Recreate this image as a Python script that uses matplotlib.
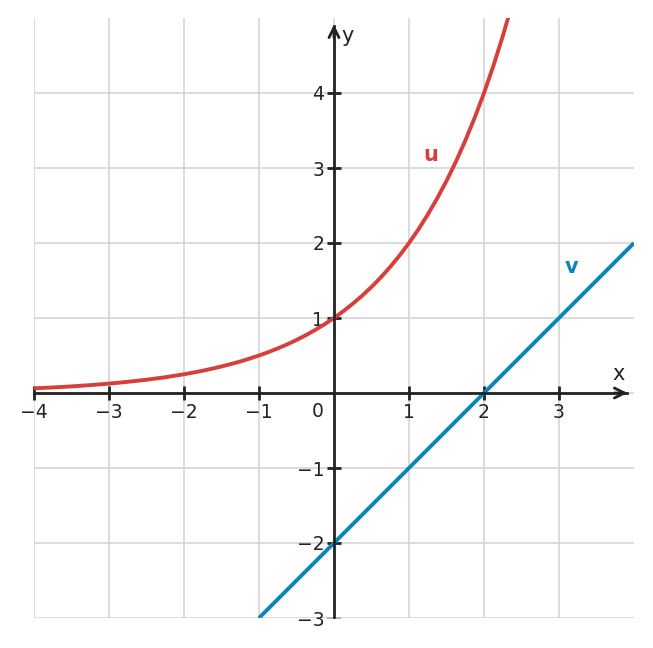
import matplotlib.pyplot as plt
import numpy as np

# u: exponential-looking curve
u_x = [-4, -3.75, -3.5, -3.25, -3, -2.75, -2.5, -2.25, -2, -1.875, -1.75,
       -1.625, -1.5, -1.375, -1.25, -1.125, -1, -0.875, -0.75, -0.625, -0.5,
       -0.375, -0.25, -0.125, 0, 0.125, 0.25, 0.375, 0.5, 0.625, 0.75, 0.875,
       1, 1.125, 1.25, 1.375, 1.5, 1.625, 1.75, 1.875, 2, 2.125, 2.25, 2.375,
       2.5]
u_y = [0.0625, 0.074, 0.088, 0.105, 0.125, 0.149, 0.177, 0.210, 0.25, 0.273,
       0.297, 0.325, 0.354, 0.386, 0.420, 0.459, 0.5, 0.545, 0.595, 0.648,
       0.707, 0.771, 0.841, 0.917, 1.0, 1.091, 1.19, 1.297, 1.414, 1.542,
       1.682, 1.834, 2.0, 2.181, 2.378, 2.594, 2.828, 3.084, 3.364, 3.668,
       4.0, 4.362, 4.757, 5.187, 5.657]

# v: straight line
v_x = [-1, 4]
v_y = [-3, 2]

x_ticks = [-4, -3, -2, -1, 1, 2, 3]
y_ticks = [-3, -2, -1, 1, 2, 3, 4]

red = '#d63f3a'
blue = '#0c86b8'
dark = '#222222'

plt.rcParams['font.family'] = 'DejaVu Sans'
plt.rcParams['font.size'] = 13.5

fig = plt.figure(figsize=(6.53, 6.48), dpi=100)
ax = fig.add_axes([34 / 653, 30 / 648, 600 / 653, 600 / 648])
ax.set_xlim(-4, 4)
ax.set_ylim(-3, 5)

# grid
for gx in range(-4, 4):
    ax.axvline(gx, color='#d5d5d5', lw=1.2, zorder=0)
for gy in range(-3, 5):
    ax.axhline(gy, color='#d5d5d5', lw=1.2, zorder=0)

ax.plot(u_x, u_y, color=red, lw=2.8, zorder=3, solid_capstyle='butt')
ax.plot(v_x, v_y, color=blue, lw=2.8, zorder=3, solid_capstyle='butt')

# axes through the origin
for s in ['top', 'right']:
    ax.spines[s].set_visible(False)
ax.spines['left'].set_position('zero')
ax.spines['bottom'].set_position('zero')
ax.spines['left'].set_bounds(-2.98, 4.9)
ax.spines['bottom'].set_bounds(-4, 3.9)
for s in ['left', 'bottom']:
    ax.spines[s].set_color(dark)
    ax.spines[s].set_linewidth(2)
    ax.spines[s].set_zorder(4)

ax.annotate('', xy=(3.95, 0), xytext=(3.7, 0),
            arrowprops=dict(arrowstyle='->', color=dark, lw=2,
                            mutation_scale=18), zorder=5)
ax.annotate('', xy=(0, 4.95), xytext=(0, 4.7),
            arrowprops=dict(arrowstyle='->', color=dark, lw=2,
                            mutation_scale=18), zorder=5)

ax.set_xticks(x_ticks)
ax.set_yticks(y_ticks)
ax.set_xticklabels([f'\u2212{-t}' if t < 0 else str(t) for t in x_ticks])
ax.set_yticklabels([f'\u2212{-t}' if t < 0 else str(t) for t in y_ticks])
ax.tick_params(direction='inout', length=10, width=2, color=dark,
               labelcolor=dark, pad=2)

ax.text(-0.14, -0.12, '0', ha='right', va='top', color=dark)
ax.text(3.8, 0.12, 'x', ha='center', va='bottom', color=dark, fontsize=15)
ax.text(0.1, 4.76, 'y', ha='left', va='center', color=dark, fontsize=15)

ax.text(1.29, 3.17, 'u', color=red, fontweight='bold', ha='center',
        va='center', fontsize=15)
ax.text(3.17, 1.68, 'v', color=blue, fontweight='bold', ha='center',
        va='center', fontsize=15)

# the lowest y tick is drawn faint in the reference
bottom_tick = ax.yaxis.get_major_ticks()[0]
bottom_tick.tick1line.set_markeredgecolor('#aaaaaa')
bottom_tick.tick1line.set_markeredgewidth(1.2)

fig.savefig('out.png', dpi=100)
